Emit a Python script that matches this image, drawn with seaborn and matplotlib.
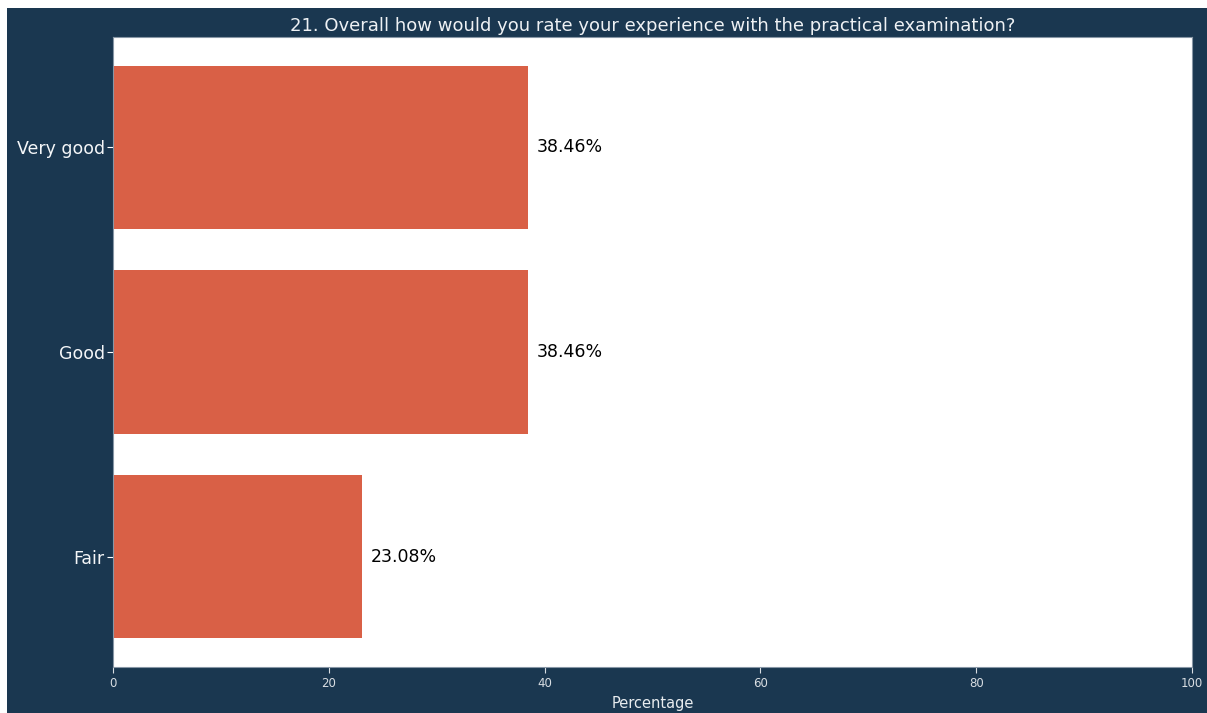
import matplotlib
matplotlib.use("Agg")
import matplotlib.pyplot as plt
from matplotlib.patches import Rectangle
import seaborn as sns
import pandas as pd

categories = ["Very good", "Good", "Fair"]
percentages = [38.46, 38.46, 23.08]
xticks = [0, 20, 40, 60, 80, 100]

title = "21. Overall how would you rate your experience with the practical examination?"

navy = "#1a3750"
bar_color = "#d96046"

sns.set_theme(style="white")
plt.rcParams["font.family"] = ["DejaVu Sans"]

fig = plt.figure(figsize=(12.07, 7.13), dpi=100, facecolor="white")
# dark panel behind the chart, leaving a thin white strip on the left and top
fig.patches.append(Rectangle((7 / 1207, 0), 1 - 7 / 1207, 1 - 8 / 713,
                             transform=fig.transFigure, facecolor=navy,
                             edgecolor="none", zorder=-10))

ax = fig.add_axes([113 / 1207, 1 - 667 / 713, (1192 - 113) / 1207, (667 - 37) / 713])
ax.set_facecolor("white")

df = pd.DataFrame({"Rating": categories, "Percentage": percentages})
sns.barplot(data=df, x="Percentage", y="Rating", color=bar_color,
            saturation=1, width=0.8, linewidth=0, ax=ax)

for i, v in enumerate(percentages):
    ax.text(v + 0.8, i, f"{v:.2f}%", va="center", ha="left",
            fontsize=12.5, color="black")

ax.set_xlim(0, 100)
ax.set_ylim(2.54, -0.54)
ax.set_xticks(xticks)
ax.set_xticklabels([str(t) for t in xticks], fontsize=8.5, color="#d8dde2")
ax.tick_params(axis="y", labelsize=12.5, labelcolor="#f4f6f8", color="white",
               length=4, width=0.8, left=True, pad=2)
ax.tick_params(axis="x", color="#d8dde2", length=4, width=0.8, bottom=True)
ax.set_ylabel("")
ax.set_xlabel("Percentage", fontsize=10.5, color="#e8ecef", labelpad=4)
ax.set_title(title, fontsize=13, color="#eef1f4", pad=4)

for s in ax.spines.values():
    s.set_color("#8796a5")
    s.set_linewidth(0.8)

fig.savefig("out.png", dpi=100, facecolor="white")
